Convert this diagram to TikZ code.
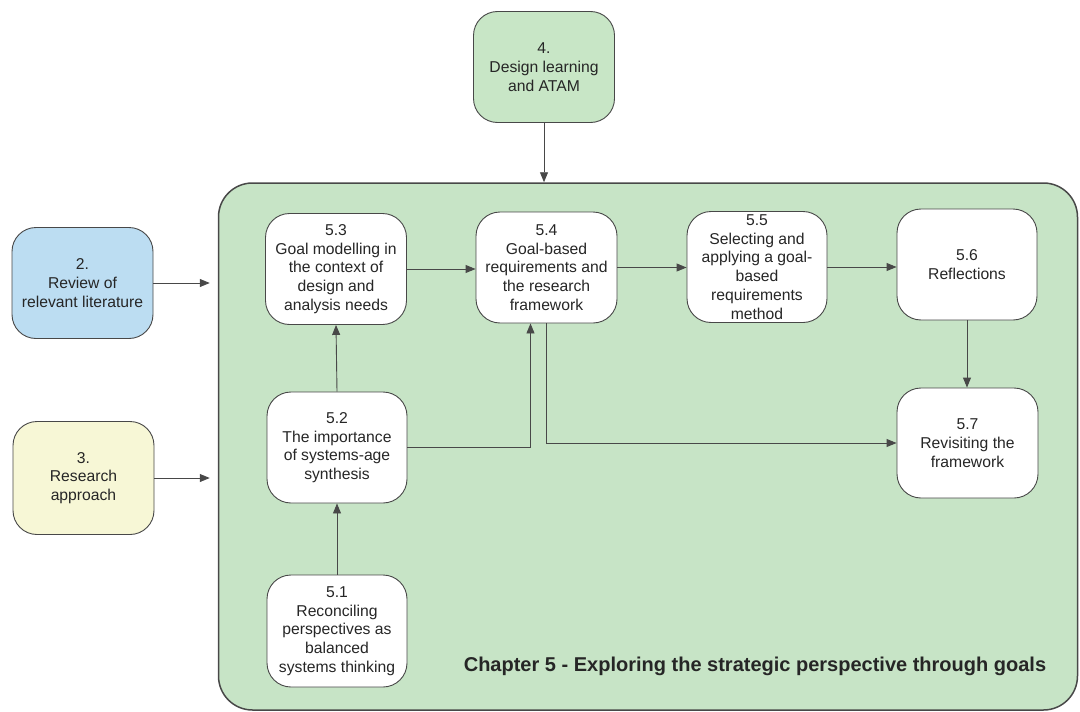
\documentclass[tikz,border=0pt]{standalone}
\usepackage{fontspec}
\setmainfont{Liberation Sans}
\usetikzlibrary{arrows.meta}
\definecolor{chapfill}{HTML}{C7E4C6}
\definecolor{greenbox}{HTML}{C8E6C6}
\definecolor{bluebox}{HTML}{BCDDF2}
\definecolor{yellowbox}{HTML}{F7F7D6}
\definecolor{edge}{HTML}{484848}
\definecolor{ink}{HTML}{262626}
\begin{document}
\begin{tikzpicture}[x=1pt,y=-1pt,
  box/.style={draw=edge, line width=0.9pt, rounded corners=24pt, fill=white,
    minimum width=141pt, minimum height=111pt, inner sep=0pt, align=center,
    text=ink, font=\fontsize{15.7}{18.7}\selectfont},
  link/.style={draw=edge, line width=0.9pt, -{Triangle[length=10pt,width=8pt]}},
  plain/.style={draw=edge, line width=0.9pt}]
\useasboundingbox (0,0) rectangle (1080,712);

% chapter frame
\node[draw=edge, line width=1.5pt, rounded corners=34pt, fill=chapfill,
  minimum width=859pt, minimum height=527pt, inner sep=0pt] (chap) at (648,446.5) {};
\node[font=\fontsize{20}{23}\selectfont\bfseries, text=ink] (title) at (755,666)
  {Chapter 5 - Exploring the strategic perspective through goals};

% feeding chapters
\node[box, fill=greenbox] (b4) at (544,67) {4.\\Design learning\\and ATAM};
\node[box, fill=bluebox] (b2) at (82.5,283) {2.\\Review of\\relevant literature};
\node[box, fill=yellowbox, minimum height=113pt] (b3) at (83.5,478) {3.\\Research\\approach};

% sections of chapter 5
\node[box] (b53) at (336,269) {5.3\\Goal modelling in\\the context of\\design and\\analysis needs};
\node[box] (b54) at (546.5,267.5) {5.4\\Goal-based\\requirements and\\the research\\framework};
\node[box, minimum width=140pt] (b55) at (757,267) {5.5\\Selecting and\\applying a goal-\\based\\requirements\\method};
\node[box, minimum width=140pt] (b56) at (967,264.5) {5.6\\Reflections};
\node[box, minimum height=110pt] (b57) at (967.5,443) {5.7\\Revisiting the\\framework};
\node[box, minimum width=140pt] (b52) at (337,447.5) {5.2\\The importance\\of systems-age\\synthesis};
\node[box, minimum width=140pt, minimum height=112pt] (b51) at (337,631) {5.1\\Reconciling\\perspectives as\\balanced\\systems thinking};

% connectors
\draw[link] (b4.south) -- (b4.south |- chap.north);
\draw[link, shorten >=8pt] (b2.east) -- (b2.east -| chap.west);
\draw[link, shorten >=8pt] (b3.east) -- (b3.east -| chap.west);
\draw[link] (b51.north) -- (b52.south);
\draw[link] (b52.north) -- (b53.south);
\draw[link] (b53.east) -- (b53.east -| b54.west);
\draw[link] (b54.east) -- (b54.east -| b55.west);
\draw[link] (b55.east) -- (b55.east -| b56.west);
\draw[link] (b56.south) -- (b56.south |- b57.north);
\draw[link] (b52.east) -| ([xshift=-16pt]b54.south);
\draw[link] (b54.south) |- (b57.west);
\end{tikzpicture}
\end{document}
